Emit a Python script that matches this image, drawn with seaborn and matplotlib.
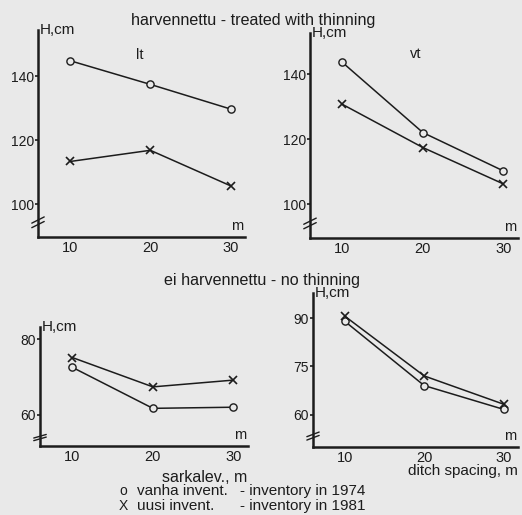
import matplotlib
matplotlib.use("Agg")
import matplotlib.pyplot as plt
import seaborn as sns
import pandas as pd

spacing = [10, 20, 30]
lt_1974 = [144.8, 137.4, 129.7]
lt_1981 = [113.3, 116.8, 105.7]
vt_1974 = [143.6, 122.0, 110.2]
vt_1981 = [130.7, 117.4, 106.2]
nt_left_1974 = [72.6, 61.7, 62.0]
nt_left_1981 = [75.2, 67.4, 69.2]
nt_right_1974 = [89.0, 69.0, 61.6]
nt_right_1981 = [90.6, 72.0, 63.2]

sns.set_theme(style="white")
plt.rcParams['font.family'] = ['Liberation Sans', 'DejaVu Sans']
BG = '#e9e9e9'
INK = '#1c1c1c'

fig = plt.figure(figsize=(5.22, 5.15), dpi=100, facecolor=BG)

W, H = 522.0, 515.0
def rect(l, r, t, b):
    return [l / W, 1 - b / H, (r - l) / W, (b - t) / H]

panels = [
    dict(rect=rect(38, 245, 30, 237), ylim=(89.7, 154.4), yticks=[100, 120, 140],
         s74=lt_1974, s81=lt_1981, label='lt', lpos=(0.49, 0.88)),
    dict(rect=rect(310, 518, 33, 238), ylim=(89.6, 152.6), yticks=[100, 120, 140],
         s74=vt_1974, s81=vt_1981, label='vt', lpos=(0.51, 0.90)),
    dict(rect=rect(40, 248, 327, 446), ylim=(51.7, 83.3), yticks=[60, 80],
         s74=nt_left_1974, s81=nt_left_1981, label=None, lpos=None),
    dict(rect=rect(313, 518, 293, 447), ylim=(49.9, 97.8), yticks=[60, 75, 90],
         s74=nt_right_1974, s81=nt_right_1981, label=None, lpos=None),
]

for p in panels:
    ax = fig.add_axes(p['rect'])
    ax.set_facecolor(BG)
    d74 = pd.DataFrame({'m': spacing, 'H': p['s74']})
    d81 = pd.DataFrame({'m': spacing, 'H': p['s81']})
    sns.lineplot(data=d74, x='m', y='H', ax=ax, color=INK, lw=1.1,
                 marker='o', markersize=5.2, markerfacecolor=BG,
                 markeredgecolor=INK, markeredgewidth=1.0, clip_on=False, zorder=3)
    sns.lineplot(data=d81, x='m', y='H', ax=ax, color=INK, lw=1.1,
                 marker='x', markersize=6, markeredgecolor=INK,
                 markeredgewidth=1.2, clip_on=False, zorder=3)
    ax.set_xlim(6, 31.8)
    ax.set_ylim(*p['ylim'])
    ax.set_xticks(spacing)
    ax.set_yticks(p['yticks'])
    ax.set_xlabel('')
    ax.set_ylabel('')
    for s in ['top', 'right']:
        ax.spines[s].set_visible(False)
    for s in ['left', 'bottom']:
        ax.spines[s].set_color(INK)
        ax.spines[s].set_linewidth(1.8)
    ax.tick_params(axis='x', length=0, pad=3, labelsize=10.5, labelcolor=INK)
    ax.tick_params(axis='y', length=2.5, width=1.2, direction='out', color=INK,
                   pad=0.5, labelsize=10, labelcolor=INK, left=True)
    ax.text(0.01, 1.0, 'H,cm', transform=ax.transAxes, ha='left', va='center',
            fontsize=11, color=INK)
    ax.annotate('m', xy=(0.96, 0.0), xycoords='axes fraction', xytext=(0, 3),
                textcoords='offset points', ha='center', va='bottom',
                fontsize=10.5, color=INK)
    if p['label']:
        ax.text(p['lpos'][0], p['lpos'][1], p['label'], transform=ax.transAxes,
                ha='center', va='center', fontsize=10.5, color=INK)
    # axis break marks
    for dy in (0.0, 0.022):
        ax.plot([-0.03, 0.03], [0.045 + dy, 0.075 + dy], transform=ax.transAxes,
                color=INK, lw=1.0, clip_on=False, zorder=4)

fig.text(253 / W, 1 - 20 / H, 'harvennettu - treated with thinning', ha='center',
         va='center', fontsize=11.6, color=INK)
fig.text(262 / W, 1 - 280 / H, 'ei harvennettu - no thinning', ha='center',
         va='center', fontsize=11.6, color=INK)
fig.text(205 / W, 1 - 477 / H, 'sarkalev., m', ha='center', va='center',
         fontsize=11.5, color=INK)
fig.text(408 / W, 1 - 471 / H, 'ditch spacing, m', ha='left', va='center',
         fontsize=11, color=INK)

legend_rows = [('o', 'vanha invent.', '- inventory in 1974', 491),
               ('X', 'uusi invent.', '- inventory in 1981', 506)]
for sym, name, desc, y in legend_rows:
    fig.text(123 / W, 1 - y / H, sym, ha='center', va='center', fontsize=10, color=INK)
    fig.text(137 / W, 1 - y / H, name, ha='left', va='center', fontsize=11, color=INK)
    fig.text(240 / W, 1 - y / H, desc, ha='left', va='center', fontsize=11, color=INK)

fig.savefig('out.png', dpi=100, facecolor=BG)
